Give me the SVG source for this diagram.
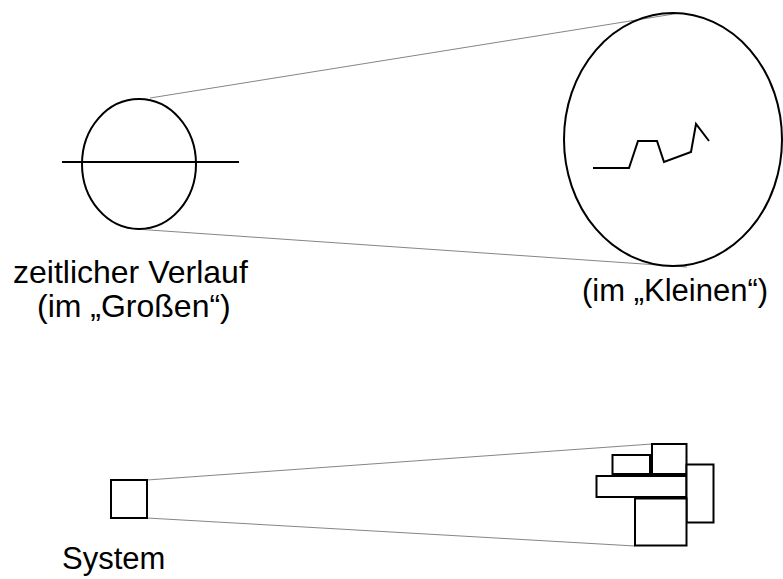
<svg xmlns="http://www.w3.org/2000/svg" width="783" height="579" viewBox="0 0 783 579">
  <style>
    .shape { fill: none; stroke: #000; stroke-width: 2; }
    .box { fill: #fff; stroke: #000; stroke-width: 2; }
    .proj { fill: none; stroke: #777; stroke-width: 0.9; }
    .lbl { font-family: "Liberation Sans", Arial, sans-serif; font-size: 31px; fill: #000; }
    .big { font-size: 32px; }
  </style>
  <rect width="783" height="579" fill="#fff"/>

  <!-- projection lines from the overview to the detail views -->
  <g id="connectors">
    <line class="proj" x1="150" y1="98" x2="680" y2="13"/>
    <line class="proj" x1="135" y1="229" x2="687" y2="267"/>
    <line class="proj" x1="147" y1="480" x2="652" y2="444"/>
    <line class="proj" x1="147" y1="518" x2="635" y2="546"/>
  </g>

  <!-- time course, coarse view -->
  <g id="coarse">
    <ellipse class="shape" cx="139" cy="164" rx="57" ry="65"/>
    <line class="shape" x1="62" y1="162" x2="239" y2="162"/>
    <text class="lbl big" x="13" y="283">zeitlicher Verlauf</text>
    <text class="lbl big" x="37" y="317">(im „Großen“)</text>
  </g>

  <!-- time course, fine view -->
  <g id="fine">
    <ellipse class="shape" cx="673" cy="139.5" rx="109" ry="126.5"/>
    <polyline class="shape" points="593,168 629,168 638,141 657,141 664,162 691,152 696,124 709,141"/>
    <text class="lbl" x="582" y="301">(im „Kleinen“)</text>
  </g>

  <!-- system as a whole -->
  <g id="system">
    <rect class="box" x="111" y="480" width="36" height="38"/>
    <text class="lbl" x="62" y="569">System</text>
  </g>

  <!-- system broken into parts -->
  <g id="parts">
    <rect class="box" x="652" y="444" width="34.5" height="30"/>
    <rect class="box" x="612.5" y="455" width="37.5" height="19"/>
    <rect class="box" x="596.5" y="476" width="90" height="21"/>
    <rect class="box" x="686.5" y="464.5" width="27" height="58"/>
    <rect class="box" x="635" y="498.5" width="51.5" height="47"/>
  </g>
</svg>
